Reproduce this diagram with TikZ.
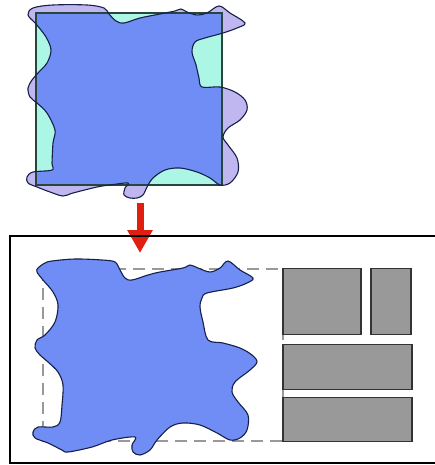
\documentclass[tikz,border=0pt]{standalone}
\usetikzlibrary{arrows.meta}
\definecolor{blobblue}{RGB}{112,140,245}
\definecolor{lav}{RGB}{192,182,240}
\definecolor{aqua}{RGB}{172,246,230}
\definecolor{sqline}{RGB}{40,70,60}
\definecolor{blobline}{RGB}{22,32,72}
\definecolor{blockgray}{RGB}{153,153,153}
\definecolor{arrowred}{RGB}{225,30,15}
\tikzset{
  blobedge/.style={draw=blobline, line width=1.1pt, line join=round},
  grayblock/.style={draw=black!80, fill=blockgray, line width=1.2pt, inner sep=0pt, outer sep=0pt},
  guide/.style={draw=black!40, line width=1.2pt, dash pattern=on 12pt off 7pt},
  panel/.style={draw=black, line width=1.3pt}
}
\def\upperblob{plot[smooth cycle, tension=0.55] coordinates {
(28,15) (33,8) (53,5) (87,5) (104,8) (109,14) (116,21) (124,23) (140,18) (160,14) (175,11) (181,9) (187,12) (197,15) (207,13) (219,6) (230,13) (245,23) (237,28) (223,33) (205,38) (195,42) (192,52) (196,65) (199,78) (202,87) (220,87) (235,92) (245,100) (247,110) (240,120) (228,128) (223,137) (228,145) (237,158) (238,172) (230,183) (220,185) (210,178) (197,172) (180,168) (165,170) (153,178) (147,187) (143,195) (137,198) (130,198) (124,195) (125,188) (128,183) (110,185) (97,187) (73,193) (63,196) (50,192) (37,187) (28,183) (27,177) (33,172) (52,170) (52,163) (53,143) (55,130) (47,113) (37,103) (30,97) (28,88) (32,80) (38,73) (47,63) (51,50) (46,37) (36,24)}}
\def\lowerblob{plot[smooth cycle, tension=0.55] coordinates {
(38,268) (45,263) (52,261) (75,259) (102,260) (115,262) (120,270) (125,278) (132,280) (148,275) (160,272) (183,268) (190,265) (198,268) (210,272) (220,268) (228,261) (240,270) (253,278) (247,283) (233,288) (207,293) (202,298) (200,307) (203,322) (208,340) (223,343) (240,348) (252,355) (257,362) (250,370) (235,382) (232,392) (238,402) (248,415) (247,430) (240,438) (230,440) (217,433) (200,425) (183,423) (170,427) (157,440) (150,450) (140,455) (133,452) (132,445) (135,437) (112,440) (92,447) (68,452) (62,450) (48,443) (35,438) (33,432) (38,427) (53,427) (60,422) (62,405) (63,385) (58,372) (48,362) (40,355) (35,348) (37,340) (45,335) (55,322) (58,305) (53,292) (43,280) (37,272)}}
\begin{document}
\begin{tikzpicture}[x=1pt, y=-1pt]
\useasboundingbox (0,0) rectangle (434,465);
% upper figure
\coordinate (sqA) at (36,13);
\coordinate (sqB) at (222,185);
\fill[aqua] (sqA) rectangle (sqB);
\fill[lav] \upperblob;
\begin{scope}
  \clip (sqA) rectangle (sqB);
  \fill[blobblue] \upperblob;
\end{scope}
\draw[sqline, line width=1.1pt] (sqA) rectangle (sqB);
\draw[blobedge] \upperblob;
% arrow
\coordinate (arrS) at (140,203);
\coordinate (arrE) at (140,253);
\draw[arrowred, line width=7pt, -{Triangle[width=24pt,length=23pt]}] (arrS) -- (arrE);
% lower panel
\coordinate (pA) at (10,236);
\coordinate (pB) at (436,463);
\draw[panel] (pA) rectangle (pB);
\coordinate (gA) at (43,269);
\coordinate (gB) at (283,441);
\draw[guide] (gA) rectangle (gB);
\fill[blobblue] \lowerblob;
\draw[blobedge] \lowerblob;
\node[grayblock, minimum width=78pt, minimum height=66pt] (r1) at (322,301.5) {};
\node[grayblock, minimum width=40pt, minimum height=66pt] (r2) at (391,301.5) {};
\node[grayblock, minimum width=129pt, minimum height=45pt] (r3) at (347.5,367) {};
\node[grayblock, minimum width=129pt, minimum height=44pt] (r4) at (347.5,419.5) {};
\end{tikzpicture}
\end{document}
